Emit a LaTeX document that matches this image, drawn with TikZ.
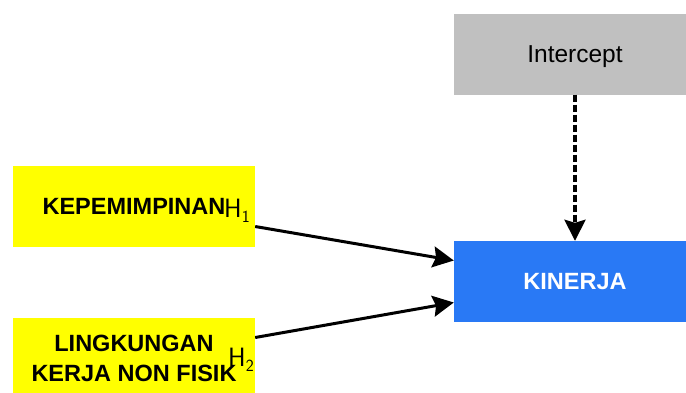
\documentclass[tikz,border=0pt]{standalone}
\usepackage{fontspec}
\setmainfont{Liberation Sans}
\usepackage{tikz}
\usetikzlibrary{arrows.meta}

\definecolor{kuning}{RGB}{255,255,0}
\definecolor{abu}{RGB}{192,192,192}
\definecolor{biru}{RGB}{41,121,245}

\tikzset{
  kotak/.style={minimum width=242pt,minimum height=81pt,inner sep=0pt,align=center,
    font=\fontsize{23.5}{30}\selectfont},
  panah/.style={line width=3pt,-{Stealth[length=21pt,width=21pt,inset=3pt]}},
  label h/.style={anchor=base west,inner sep=0pt,font=\fontsize{26.5}{26.5}\sffamily}
}

\begin{document}
\begin{tikzpicture}[x=1pt,y=-1pt]
			\useasboundingbox (0,0) rectangle (686,392);
			\node[kotak,fill=kuning,font=\fontsize{23.5}{30}\selectfont\bfseries] (kepemimpinan) at (134,206.5) {KEPEMIMPINAN};
			\node[kotak,fill=kuning,font=\fontsize{23.5}{30}\selectfont\bfseries] (lingkungan) at (134,358.5) {LINGKUNGAN\\KERJA NON FISIK};
			\node[kotak,fill=abu,text depth=0pt,font=\fontsize{24.5}{30}\selectfont] (intercept) at (575,54) {Intercept};
			\node[kotak,fill=biru,text=white,font=\fontsize{23.5}{30}\selectfont\bfseries] (kinerja) at (575,281.5) {KINERJA};
			% label hipotesis
			\node[label h] (h1) at (224,217) {H\raisebox{-5pt}{\fontsize{17}{17}\selectfont 1}};
			\node[label h] (h2) at (228,366) {H\raisebox{-5pt}{\fontsize{17}{17}\selectfont 2}};
			% panah
			\draw[panah] ([yshift=-20pt]kepemimpinan.east) -- ([yshift=21pt]kinerja.west);
			\draw[panah] ([yshift=21pt]lingkungan.east) -- ([yshift=-21pt]kinerja.west);
			\draw[panah,dash pattern=on 7pt off 3pt,line width=3.5pt] (intercept.south) -- (kinerja.north);
		\end{tikzpicture}
\end{document}
